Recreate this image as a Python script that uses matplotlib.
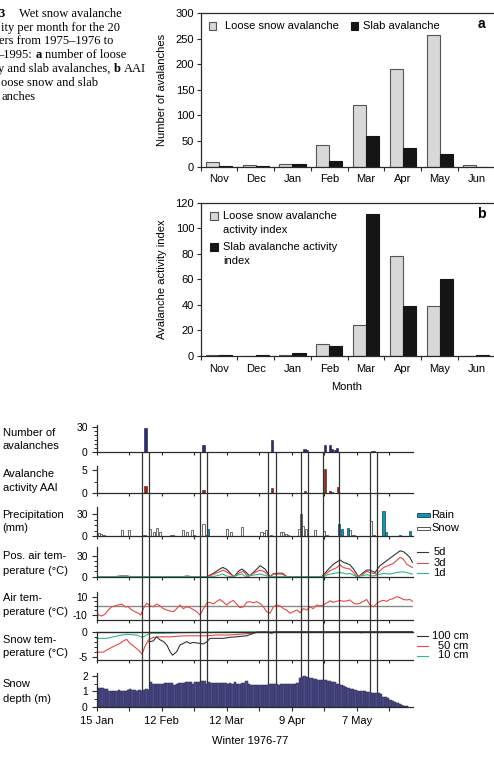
import matplotlib
matplotlib.use('Agg')
import matplotlib.pyplot as plt
import numpy as np
from matplotlib.patches import Rectangle
from matplotlib.lines import Line2D
from matplotlib.ticker import MultipleLocator, FixedLocator

plt.rcParams['font.family'] = ['Liberation Sans', 'DejaVu Sans']
plt.rcParams['axes.unicode_minus'] = False

# ---------------- data: monthly panels ----------------
months = ['Nov', 'Dec', 'Jan', 'Feb', 'Mar', 'Apr', 'May', 'Jun']
loose_count = [10, 3, 5, 42, 120, 191, 257, 4]
slab_count = [2, 2, 5, 12, 59, 36, 25, 0]
loose_aai = [1, 0, 0.5, 9.5, 24.5, 78, 39, 0]
slab_aai = [1, 1, 2, 7.5, 111.5, 39, 60.5, 0.5]

# ---------------- data: winter 1976-77 (days after 15 Jan) ----------------
date_labels = ['15 Jan', '12 Feb', '12 Mar', '9 Apr', '7 May']
event_start = [19.7, 44.5, 73.9, 87.9, 97.4, 117.7]
event_end = [22.4, 47.7, 77.3, 91.2, 104.5, 120.6]

aval_days = [21, 46, 75.5, 89.5, 90.5, 98.5, 100.5, 101.5, 102.5, 103.5, 118.5, 119.5]
aval_num = [28, 9, 15, 4, 3, 8, 8, 4, 3, 4.5, 2, 2]

aai_days = [21, 46, 75.5, 89.8, 98.5, 100.5, 101.5, 103.8, 119.5]
aai_vals = [1.6, 0.8, 1.2, 0.5, 5.15, 0.6, 0.3, 1.4, 0.1]

snow_days = [0, 1, 2, 3, 11, 14, 20, 21, 23, 24.5, 26, 27.3, 32, 33, 37, 38.8, 41, 42,
             46, 47, 56, 58, 62.7, 71, 72, 73, 75, 79.4, 80.3, 81.5, 82.5, 87, 88, 89,
             90, 94, 98, 99, 109, 110, 111, 118]
snow_mm = [4, 4, 3, 1, 8, 8, 1, 2, 9, 6, 11, 6, 2, 2, 8, 5, 8, 1,
           17, 2, 10, 5, 13, 5, 4, 8, 1, 5, 5, 3, 2, 10, 31, 14,
           9, 8, 7, 2, 8, 2, 2, 21]
rain_days = [48, 104.4, 105.5, 108.3, 119.5, 123.5, 124.5, 130.8, 135]
rain_mm = [9, 16, 9, 11, 1.5, 35, 5, 2, 7]

p5_days = [0, 8, 10, 13, 15, 37, 39, 41, 47.4, 50.3, 52.4, 54.3, 56.0, 58.2, 59.2,
           61.0, 62.5, 63.9, 65.8, 67.5, 70.4, 72.5, 74.7, 76.0, 78.0, 80.0, 81.9,
           97.0, 98.3, 100.5, 102.0, 104.8, 106.3, 107.7, 109.1, 110.6, 112.0, 112.7,
           114.9, 116.3, 117.7, 119.9, 122.0, 124.9, 127.8, 130.7, 132.1, 133.5, 134.9, 136.0]
p5_vals = [0, 0, 1, 1, 0, 0, 1, 0, 0, 4.8, 9.5, 13.3, 10.5, 2.9, 0,
           7.6, 11, 7.6, 1.4, 6, 15.7, 11, 0, 4, 5, 5, 0,
           0, 5, 13, 18, 24, 20.5, 19, 17, 11, 3.8, 0,
           6, 9.5, 9.5, 6, 15.7, 22.8, 30, 37, 35.7, 32, 27.6, 20.5]
p3_days = [0, 47.4, 48.8, 52.4, 54.6, 57.4, 59.2, 61.7, 63.2, 65.2, 67.5, 70.3, 72.0,
           74.7, 76.0, 80.0, 81.9, 97.5, 98.3, 100.5, 103.4, 104.8, 106.3, 107.7, 109.1,
           110.6, 112.0, 114.9, 116.3, 117.7, 120.6, 123.5, 127.8, 130.7, 132.1, 133.5, 136.0]
p3_vals = [0, 0, 1.4, 6.2, 9.5, 3.8, 0, 6, 7.6, 0, 4.8, 9.5, 7.6,
           0, 3.8, 3.8, 0, 0, 3, 8.6, 13, 17, 13, 12, 11,
           6, 0, 4, 7.6, 6, 3.8, 13, 19, 27.6, 25, 18, 13]
p1_days = [0, 50, 52.4, 54.3, 56.0, 58.0, 62.5, 64.0, 66.0, 70.4, 74.7, 98.0, 99.3,
           102.0, 104.8, 107.7, 109.1, 112.0, 116.3, 119.0, 123.5, 126.3, 129.2, 132.1, 134.9, 136.0]
p1_vals = [0, 0, 2, 3.8, 1, 0, 3.8, 0.5, 1.4, 3.8, 0, 0, 2.8,
           4.7, 6, 3.8, 4.7, 0, 2.8, 1, 4.7, 3.8, 6, 7, 4.7, 3.8]

air_days = [0, 0.7, 2.2, 3.6, 5.0, 6.5, 7.9, 9.3, 10.8, 12.2, 13.6, 15.1, 16.5, 18.0, 19.0,
            20.1, 21.5, 23.0, 24.4, 25.8, 27.3, 28.7, 30.2, 31.6, 33.0, 34.5, 35.9, 37.3,
            38.8, 40.2, 41.6, 43.1, 44.5, 46.0, 47.4, 48.8, 50.3, 51.7, 53.1, 54.6, 56.0,
            57.4, 58.9, 60.3, 61.7, 63.2, 64.6, 66.0, 67.5, 68.9, 70.4, 71.8, 73.2, 74.7,
            76.1, 77.5, 79.0, 80.4, 81.8, 83.3, 84.7, 86.2, 87.6, 89.0, 90.5, 91.9, 93.3,
            94.8, 96.2, 97.6, 99.0, 100.5, 101.9, 103.4, 104.8, 106.3, 107.7, 109.1, 110.6,
            112.0, 113.4, 114.9, 116.3, 117.7, 119.2, 120.6, 122.0, 123.5, 124.9, 126.3,
            127.8, 129.2, 130.7, 132.1, 133.5, 134.9, 136.0]
air_vals = [-6.4, -10, -11, -9, -4.5, -1, 0, 1, 2, -1, -1, -4.5, -6.4, -8, -10,
            -3, 3, 0, -1, 2, 0, -3, -4.5, -5.6, -6.4, -3, 1, -3,
            -1, -2, -4, -6.4, -10, -3, 3, 4, 2, 5, 7, 4, 1,
            4, 6, 2, -2, -1, 4, 4.5, 3.4, 4.5, 2.7, -1, -6.4, -8,
            -1, 1, 0, -3, -4.5, -8, -6.4, -4.5, -7.5, -3, -4.5, -1, -3,
            1, 0, 1, 3, 5.5, 4, 5, 6, 5, 5.5, 6.5, 3,
            2, 3, 5, 7, 1, -1, 2.5, 5, 6, 5, 7,
            8, 10, 9, 7, 6.5, 7, 5]

t10_days = [0, 4.3, 8.6, 12.9, 17.2, 19.8, 21.5, 23.0, 28.7, 34.5, 40.2, 47.4, 54.6, 69.0, 136.0]
t10_vals = [-1.3, -1.3, -0.85, -0.5, -0.65, -1.1, -0.65, -0.3, -0.3, -0.2, -0.15, -0.1, -0.05, -0.02, -0.02]
t50_days = [0, 2.9, 4.3, 7.2, 10.0, 11.5, 12.9, 14.4, 17.2, 18.7, 19.5, 20.8, 22.3, 24.4,
            27.3, 31.6, 35.9, 40.2, 47.4, 51.7, 57.4, 63.2, 70.3, 80.0, 113.0, 114.0, 115.0, 136.0]
t50_vals = [-4.0, -4.0, -3.6, -2.9, -2.3, -1.8, -1.5, -2.3, -3.3, -3.9, -4.4, -2.9, -1.6, -1.1,
            -1.0, -1.0, -0.85, -0.8, -0.8, -0.65, -0.65, -0.45, -0.1, -0.05, -0.05, -0.25, -0.05, -0.03]
t100_days = [22.5, 24.4, 25.8, 27.3, 28.7, 30.2, 31.6, 32.7, 34.5, 35.9, 37.3, 38.8, 40.2,
             41.6, 43.1, 44.5, 46.0, 47.4, 48.8, 51.7, 54.6, 57.4, 60.3, 64.6, 68.9, 73.0,
             75.4, 76.5, 136.0]
t100_vals = [-2.0, -1.8, -1.0, -1.6, -1.9, -2.6, -3.9, -4.6, -3.9, -2.6, -2.3, -1.95, -2.3,
             -2.1, -2.2, -2.3, -2.4, -2.0, -1.3, -1.3, -1.3, -1.1, -1.0, -0.8, -0.1, -0.05,
             -0.3, -0.05, -0.03]

snow_depth = [1.22, 1.22, 1.2, 1.18, 1.12,
              1.05, 1.05, 1.05, 1.05, 1.06, 1.05, 1.05, 1.05, 1.08,
              1.15, 1.08, 1.06, 1.05, 1.07, 1.05, 1.1, 1.12, 1.1,
              1.6, 1.5, 1.48, 1.48, 1.5, 1.5,
              1.55, 1.56, 1.56, 1.55, 1.4, 1.5, 1.55, 1.56, 1.56, 1.6, 1.62, 1.58,
              1.46, 1.58, 1.6, 1.63, 1.65, 1.66,
              1.5, 1.58, 1.56, 1.56, 1.55,
              1.52, 1.52, 1.55, 1.52, 1.5, 1.52, 1.5,
              1.63, 1.5, 1.5, 1.52, 1.55, 1.65, 1.5,
              1.42, 1.4, 1.4, 1.42, 1.4, 1.4, 1.42, 1.42,
              1.48, 1.48, 1.46, 1.45, 1.4, 1.45,
              1.5, 1.48, 1.48, 1.47, 1.48, 1.5, 1.52,
              1.9, 1.96, 1.97, 1.95, 1.9, 1.86, 1.8, 1.78, 1.76,
              1.74, 1.74, 1.73, 1.7, 1.65, 1.62, 1.58, 1.5, 1.46, 1.4,
              1.35, 1.28, 1.2, 1.14, 1.12, 1.08,
              1.02, 1.0, 1.0, 1.02, 0.98, 0.93, 0.92, 0.92, 0.9, 0.88,
              0.84, 0.66, 0.6, 0.55, 0.45, 0.4, 0.33, 0.24, 0.18, 0.11, 0.05, 0.02]
depth_days = list(range(len(snow_depth)))

# ---------------- figure helpers ----------------
W, H = 494, 763
fig = plt.figure(figsize=(W / 100, H / 100), dpi=100)
fig.patch.set_facecolor('white')


def fx(x):
    return x / W


def fy(y):
    return 1 - y / H


def axes_px(x0, y0, x1, y1):
    return fig.add_axes([fx(x0), fy(y1), (x1 - x0) / W, (y1 - y0) / H])


def ftext(x, y, s, **kw):
    kw.setdefault('va', 'center')
    return fig.text(fx(x), fy(y), s, **kw)


def frect(x0, y0, w, h, **kw):
    fig.add_artist(Rectangle((fx(x0), fy(y0 + h)), w / W, h / H,
                             transform=fig.transFigure, **kw))


def fline(x0, x1, y, **kw):
    fig.add_artist(Line2D([fx(x0), fx(x1)], [fy(y), fy(y)],
                          transform=fig.transFigure, **kw))


SPC = '#2a2a2a'
LOOSE = '#d8d8d8'
SLAB = '#151515'

# ---------------- caption ----------------
serif = ['Liberation Serif', 'DejaVu Serif']
cap_fs = 9
base0, pitch = 16.7, 13.9
renderer = fig.canvas.get_renderer()


def chain(x, y, parts):
    for s, bold in parts:
        t = fig.text(fx(x), fy(y), s, family=serif, fontsize=cap_fs,
                     fontweight='bold' if bold else 'normal', va='baseline')
        ext = t.get_window_extent(renderer=renderer)
        x = ext.x1 + 3.1


fig.text(fx(-1.5), fy(base0), '3', family=serif, fontsize=cap_fs, fontweight='bold', va='baseline')
fig.text(fx(19.3), fy(base0), 'Wet snow avalanche', family=serif, fontsize=cap_fs, va='baseline')
fig.text(fx(0.5), fy(base0 + pitch), 'ity per month for the 20', family=serif, fontsize=cap_fs, va='baseline')
fig.text(fx(-0.5), fy(base0 + 2 * pitch), 'ers from 1975\u20131976 to', family=serif, fontsize=cap_fs, va='baseline')
chain(-2.5, base0 + 3 * pitch, [('\u20131995:', False), ('a', True), ('number of loose', False)])
chain(-1.5, base0 + 4 * pitch, [('y and slab avalanches,', False), ('b', True), ('AAI', False)])
fig.text(fx(1.0), fy(base0 + 5 * pitch), 'oose snow and slab', family=serif, fontsize=cap_fs, va='baseline')
fig.text(fx(1.0), fy(base0 + 6 * pitch), 'anches', family=serif, fontsize=cap_fs, va='baseline')

# ---------------- panels a and b ----------------
x = np.arange(len(months))
bw = 0.355


def month_panel(ax, loose, slab, ymax, ystep):
    ax.bar(x - bw / 2, loose, bw, color=LOOSE, edgecolor='#555555', linewidth=0.8)
    ax.bar(x + bw / 2, slab, bw, color=SLAB, edgecolor=SLAB, linewidth=0.8)
    ax.set_xlim(-0.5, 7.5)
    ax.set_ylim(0, ymax)
    ax.set_yticks(np.arange(0, ymax + 1, ystep))
    ax.set_xticks(x)
    ax.set_xticklabels(months)
    ax.set_xticks(np.arange(-0.5, 7.6, 1), minor=True)
    ax.tick_params(axis='x', which='major', length=0, pad=5.5, labelsize=8)
    ax.tick_params(axis='x', which='minor', length=2.6, width=0.8, direction='out', color=SPC)
    ax.tick_params(axis='y', length=2.9, width=0.8, direction='out', labelsize=8, pad=1.7, color=SPC)
    for s in ax.spines.values():
        s.set_color(SPC)
        s.set_linewidth(0.9)


ax_a = axes_px(200.5, 13, 494.8, 166.7)
month_panel(ax_a, loose_count, slab_count, 300, 50)
ftext(162, 89.8, 'Number of avalanches', rotation=90, ha='center', fontsize=8)
frect(209, 22.2, 7.3, 7.3, facecolor=LOOSE, edgecolor='#555555', linewidth=0.8)
ftext(225, 25.8, 'Loose snow avalanche', fontsize=8)
frect(350.7, 22.2, 7.3, 7.3, facecolor=SLAB, edgecolor=SLAB, linewidth=0.8)
ftext(363.3, 25.8, 'Slab avalanche', fontsize=8)
ftext(481, 24.5, 'a', ha='center', fontsize=10, fontweight='bold')

ax_b = axes_px(200.5, 202.7, 494.8, 356)
month_panel(ax_b, loose_aai, slab_aai, 120, 20)
ftext(162.3, 279, 'Avalanche activity index', rotation=90, ha='center', fontsize=8)
ftext(347, 387, 'Month', ha='center', fontsize=8)
frect(210, 212, 8, 8, facecolor=LOOSE, edgecolor='#555555', linewidth=0.8)
ftext(223.3, 216, 'Loose snow avalanche', fontsize=8)
ftext(223.3, 230, 'activity index', fontsize=8)
frect(210, 243.3, 8, 8, facecolor=SLAB, edgecolor=SLAB, linewidth=0.8)
ftext(223.3, 247.3, 'Slab avalanche activity', fontsize=8)
ftext(223.3, 261, 'index', fontsize=8)
ftext(481.7, 214.3, 'b', ha='center', fontsize=10, fontweight='bold')

# ---------------- lower multi-row panel ----------------
X0, X1 = 96.67, 412.67
XMAX = 136.1


def row(y0, y1, ylim, major, minor, z=2):
    ax = axes_px(X0, y0, X1, y1)
    ax.set_xlim(0, XMAX)
    ax.set_ylim(*ylim)
    ax.patch.set_visible(False)
    ax.set_zorder(z)
    ax.spines['top'].set_visible(False)
    ax.spines['right'].set_visible(False)
    for s in ('left', 'bottom'):
        ax.spines[s].set_color(SPC)
        ax.spines[s].set_linewidth(0.9)
    ax.xaxis.set_major_locator(MultipleLocator(14))
    ax.tick_params(axis='x', direction='out', length=2.2, width=0.8, labelbottom=False, color=SPC)
    ax.yaxis.set_major_locator(FixedLocator(major))
    ax.yaxis.set_minor_locator(FixedLocator(minor))
    ax.tick_params(axis='y', which='major', direction='out', length=3.4, width=0.8,
                   labelsize=7.4, pad=3.0, color=SPC)
    ax.tick_params(axis='y', which='minor', direction='out', length=2.0, width=0.7, color=SPC)
    return ax


r1 = row(425, 452.3, (0, 32), [0, 30], [5, 10, 15, 20, 25])
r1.bar(aval_days, aval_num, width=0.95, color='#2c2b6c', edgecolor='#1c1b4a', linewidth=0.4)

r2 = row(466, 493.3, (0, 5.86), [0, 5], [2.5])
r2.bar(aai_days, aai_vals, width=0.95, color='#8c2619', edgecolor='#5a1a10', linewidth=0.4)

r3 = row(506.7, 536, (0, 40.5), [0, 30], [7.5, 15, 22.5])
r3.bar(snow_days, snow_mm, width=0.9, color='white', edgecolor='#555555', linewidth=0.6)
r3.bar(rain_days, rain_mm, width=0.95, color='#1e8db3', edgecolor='#0e4a60', linewidth=0.5)

LW = 0.8
C5, C3, C1 = '#333333', '#e8493f', '#2fb88a'
r4 = row(547.3, 576.7, (0, 42), [0, 30], [7.5, 15, 22.5])
r4.plot(p5_days, p5_vals, color=C5, lw=LW)
r4.plot(p3_days, p3_vals, color=C3, lw=LW)
r4.plot(p1_days, p1_vals, color=C1, lw=LW)

r5 = row(591.8, 619.6, (-15, 15.4), [-10, 10], [-5, 0, 5])
r5.axhline(0, color='#8a8a8a', lw=1.0, zorder=1)
r5.plot(air_days, air_vals, color=C3, lw=LW)

r6 = row(631.7, 660.3, (-5.6, 0), [-5, 0], [-4, -3, -2, -1])
r6.spines['top'].set_visible(True)
r6.spines['top'].set_color(SPC)
r6.spines['top'].set_linewidth(1.0)
r6.plot(t10_days, t10_vals, color=C1, lw=LW, clip_on=False)
r6.plot(t50_days, t50_vals, color=C3, lw=LW, clip_on=False)
r6.plot(t100_days, t100_vals, color=C5, lw=LW, clip_on=False)

r7 = row(672.9, 706.7, (0, 2.2), [0, 1, 2], [0.5, 1.5], z=4)
r7.bar(depth_days, snow_depth, width=1.0, align='edge', color='#4b4a8d',
       edgecolor='#2c2c48', linewidth=0.35)
r7.xaxis.set_major_locator(MultipleLocator(28))
r7.xaxis.set_minor_locator(MultipleLocator(14))
r7.set_xticklabels(date_labels + [''] * 5)
r7.set_xticks([0, 28, 56, 84, 112])
r7.set_xticklabels(date_labels)
r7.tick_params(axis='x', which='both', direction='out', length=3.2, width=0.8,
               labelbottom=True, labelsize=8, pad=3.6, color=SPC)
ftext(249.7, 741, 'Winter 1976-77', ha='center', fontsize=8)

# event boxes (vertical lines behind the snow depth bars)
ov = axes_px(X0, 452.3, X1, 706.7)
ov.set_xlim(0, XMAX)
ov.set_ylim(0, 1)
ov.axis('off')
ov.set_zorder(3)
for s0, s1 in zip(event_start, event_end):
    ov.axvline(s0, color='#333333', lw=0.9)
    ov.axvline(s1, color='#333333', lw=0.9)

# row labels
row_labels = [('Number of', 432.7), ('avalanches', 445.7),
              ('Avalanche', 474.3), ('activity AAI', 487.7),
              ('Precipitation', 515), ('(mm)', 528.3),
              ('Pos. air tem-', 556), ('perature (\u00b0C)', 570.7),
              ('Air tem-', 597.7), ('perature (\u00b0C)', 611.7),
              ('Snow tem-', 640), ('perature (\u00b0C)', 652.7),
              ('Snow', 684.3), ('depth (m)', 698.7)]
for s, yy in row_labels:
    ftext(2.5, yy, s, fontsize=8)

# right-hand legends
frect(416.7, 512.5, 13.3, 4.0, facecolor='#1e8db3', edgecolor='#0e4a60', linewidth=0.6)
ftext(431.3, 514.5, 'Rain', fontsize=8)
frect(416.7, 526.6, 13.3, 3.8, facecolor='white', edgecolor='#555555', linewidth=0.7)
ftext(431.3, 528.3, 'Snow', fontsize=8)

for lab, col, yy in [('5d', C5, 552), ('3d', C3, 562.5), ('1d', C1, 572.8)]:
    fline(417, 427.5, yy, color=col, lw=LW)
    ftext(433.3, yy, lab, fontsize=8)

for lab, col, yy in [('100 cm', C5, 636), ('50 cm', C3, 645.6), ('10 cm', C1, 655.5)]:
    fline(417, 427.5, yy, color=col, lw=LW)
    ftext(468.5, yy, lab, ha='right', fontsize=8)

fig.savefig('out.png', dpi=100, facecolor='white')
